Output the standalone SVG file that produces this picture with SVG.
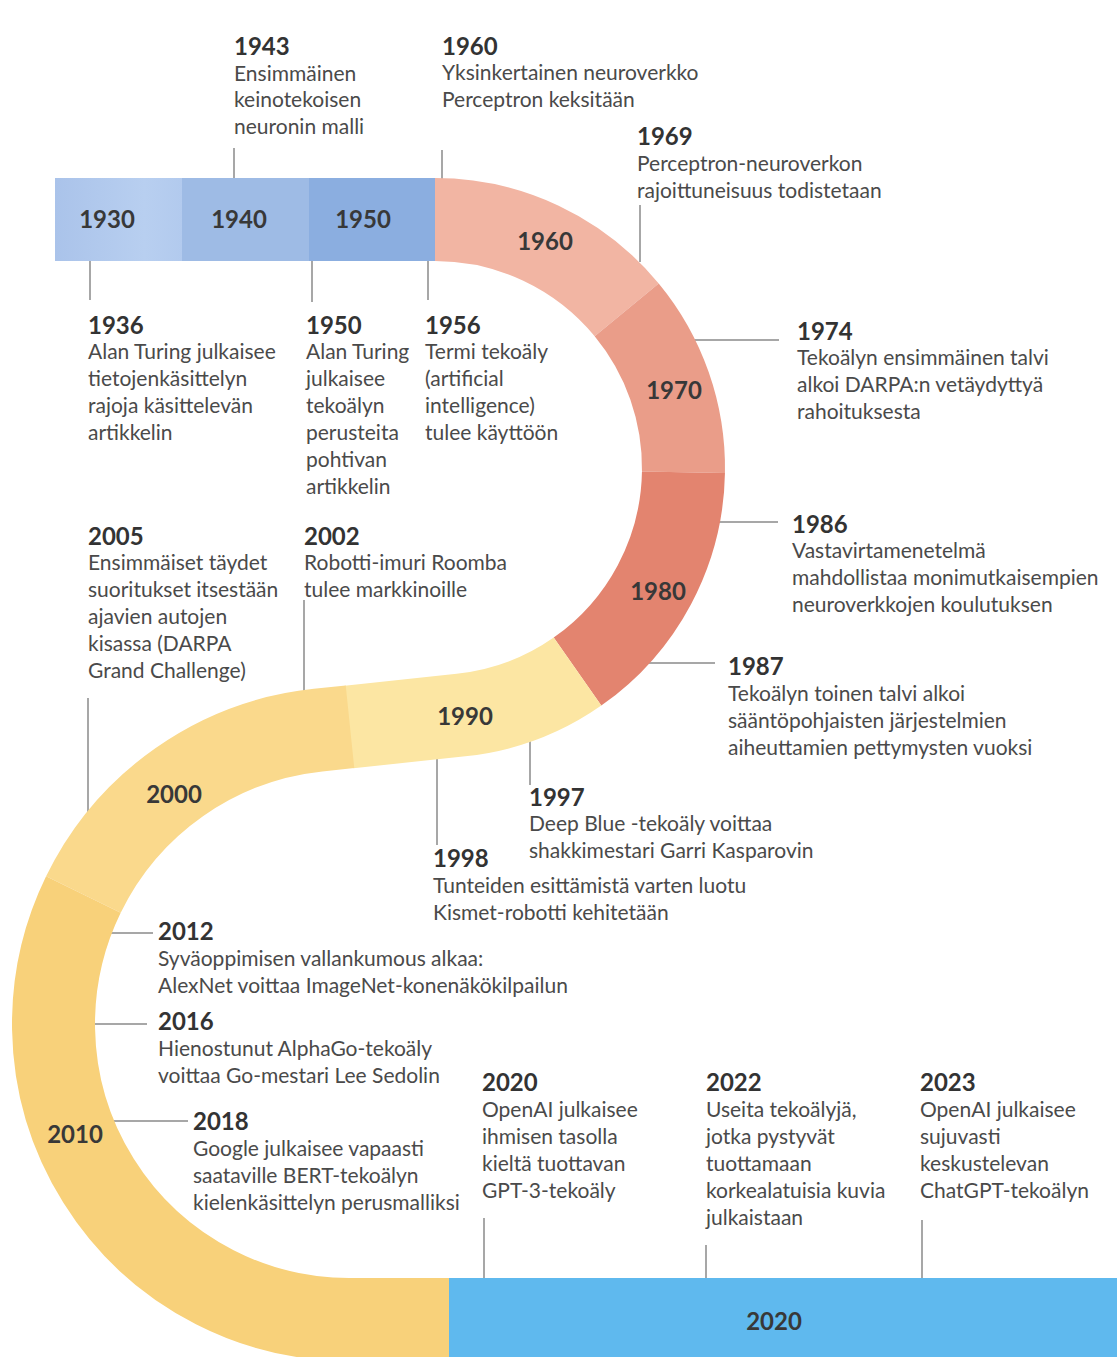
<svg xmlns="http://www.w3.org/2000/svg" width="1117" height="1357" viewBox="0 0 1117 1357">
<style>
.yr{font-family:Lato,"Liberation Sans",sans-serif;font-weight:bold;font-size:24px;fill:#333}
.d{font-family:Lato,"Liberation Sans",sans-serif;font-size:21px;fill:#4a4a4a}
.bl{font-family:Lato,"Liberation Sans",sans-serif;font-weight:bold;font-size:24px;fill:#383838;text-anchor:middle}
.tk{stroke:#8a8a8a;stroke-width:1.5;fill:none}
.seg{fill:none;stroke-width:83;stroke-linecap:butt}
</style>
<defs>
<linearGradient id="g1930" x1="0" y1="0" x2="1" y2="0">
<stop offset="0" stop-color="#AAC3EA"/><stop offset="0.7" stop-color="#B8CFF0"/><stop offset="1" stop-color="#B2CAEE"/>
</linearGradient>
</defs>
<rect width="1117" height="1357" fill="#ffffff"/>
<g id="connectors">
<line class="tk" x1="234" y1="148" x2="234" y2="180"/>
<line class="tk" x1="442" y1="150" x2="442" y2="180"/>
<line class="tk" x1="640" y1="205" x2="640" y2="262"/>
<line class="tk" x1="90" y1="259" x2="90" y2="300"/>
<line class="tk" x1="312" y1="259" x2="312" y2="302"/>
<line class="tk" x1="428" y1="259" x2="428" y2="300"/>
<line class="tk" x1="690" y1="340" x2="779" y2="340"/>
<line class="tk" x1="715" y1="522" x2="778" y2="522"/>
<line class="tk" x1="645" y1="663" x2="715" y2="663"/>
<line class="tk" x1="530" y1="738" x2="530" y2="785"/>
<line class="tk" x1="437" y1="750" x2="437" y2="845"/>
<line class="tk" x1="88" y1="698" x2="88" y2="815"/>
<line class="tk" x1="304" y1="600" x2="304" y2="692"/>
<line class="tk" x1="110" y1="933" x2="153" y2="933"/>
<line class="tk" x1="94" y1="1024" x2="147" y2="1024"/>
<line class="tk" x1="110" y1="1121" x2="188" y2="1121"/>
<line class="tk" x1="484" y1="1218" x2="484" y2="1280"/>
<line class="tk" x1="706" y1="1245" x2="706" y2="1280"/>
<line class="tk" x1="922" y1="1220" x2="922" y2="1280"/>
</g>
<g id="band">
<g id="d1930"><rect x="55" y="178" width="128" height="83" fill="url(#g1930)"/><text class="bl" x="107" y="228">1930</text></g>
<g id="d1940"><rect x="182" y="178" width="128" height="83" fill="#9EBBE5"/><text class="bl" x="239" y="228">1940</text></g>
<g id="d1950"><rect x="309" y="178" width="127" height="83" fill="#8BAEE0"/><text class="bl" x="363" y="228">1950</text></g>
<g id="d1960"><path class="seg" stroke="#F2B5A3" d="M435,219.5 A248.5,248.5 0 0 1 626.7,309.9"/><text class="bl" x="545" y="250">1960</text></g>
<g id="d1970"><path class="seg" stroke="#EA9D89" d="M626.7,309.9 A248.5,248.5 0 0 1 683.46,472.3"/><text class="bl" x="674" y="399">1970</text></g>
<g id="d1980"><path class="seg" stroke="#E3846F" d="M683.46,472.3 A248.5,248.5 0 0 1 577.5,671.6"/><text class="bl" x="658" y="600">1980</text></g>
<g id="d1990"><path class="seg" stroke="#FCE6A3" d="M577.5,671.6 A248.5,248.5 0 0 1 461,715.1 L349,726.9"/><text class="bl" x="465" y="725">1990</text></g>
<g id="d2000"><path class="seg" stroke="#FAD98C" d="M350,726.8 L318.1,730.1 A295.5,295.5 0 0 0 83.4,894.5"/><text class="bl" x="174" y="803">2000</text></g>
<g id="d2010"><path class="seg" stroke="#F8D17A" d="M83.4,894.5 A295.5,295.5 0 0 0 349,1319.5 L450,1319.5"/><text class="bl" x="75" y="1143">2010</text></g>
<g id="d2020"><rect x="449" y="1278" width="668" height="83" fill="#5FB9EE"/><text class="bl" x="774" y="1330">2020</text></g>
</g>
<g id="e1943"><text class="yr" x="234" y="55">1943</text><text class="d"><tspan x="234" y="81">Ensimmäinen</tspan><tspan x="234" y="107">keinotekoisen</tspan><tspan x="234" y="134">neuronin malli</tspan></text></g>
<g id="e1960"><text class="yr" x="442" y="55">1960</text><text class="d"><tspan x="442" y="80">Yksinkertainen neuroverkko</tspan><tspan x="442" y="107">Perceptron keksitään</tspan></text></g>
<g id="e1969"><text class="yr" x="637" y="145">1969</text><text class="d"><tspan x="637" y="171">Perceptron-neuroverkon</tspan><tspan x="637" y="198">rajoittuneisuus todistetaan</tspan></text></g>
<g id="e1936"><text class="yr" x="88" y="334">1936</text><text class="d"><tspan x="88" y="359">Alan Turing julkaisee</tspan><tspan x="88" y="386">tietojenkäsittelyn</tspan><tspan x="88" y="413">rajoja käsittelevän</tspan><tspan x="88" y="440">artikkelin</tspan></text></g>
<g id="e1950"><text class="yr" x="306" y="334">1950</text><text class="d"><tspan x="306" y="359">Alan Turing</tspan><tspan x="306" y="386">julkaisee</tspan><tspan x="306" y="413">tekoälyn</tspan><tspan x="306" y="440">perusteita</tspan><tspan x="306" y="467">pohtivan</tspan><tspan x="306" y="494">artikkelin</tspan></text></g>
<g id="e1956"><text class="yr" x="425" y="334">1956</text><text class="d"><tspan x="425" y="359">Termi tekoäly</tspan><tspan x="425" y="386">(artificial</tspan><tspan x="425" y="413">intelligence)</tspan><tspan x="425" y="440">tulee käyttöön</tspan></text></g>
<g id="e1974"><text class="yr" x="797" y="340">1974</text><text class="d"><tspan x="797" y="365">Tekoälyn ensimmäinen talvi</tspan><tspan x="797" y="392">alkoi DARPA:n vetäydyttyä</tspan><tspan x="797" y="419">rahoituksesta</tspan></text></g>
<g id="e1986"><text class="yr" x="792" y="533">1986</text><text class="d"><tspan x="792" y="558">Vastavirtamenetelmä</tspan><tspan x="792" y="585">mahdollistaa monimutkaisempien</tspan><tspan x="792" y="612">neuroverkkojen koulutuksen</tspan></text></g>
<g id="e1987"><text class="yr" x="728" y="675">1987</text><text class="d"><tspan x="728" y="701">Tekoälyn toinen talvi alkoi</tspan><tspan x="728" y="728">sääntöpohjaisten järjestelmien</tspan><tspan x="728" y="755">aiheuttamien pettymysten vuoksi</tspan></text></g>
<g id="e1997"><text class="yr" x="529" y="806">1997</text><text class="d"><tspan x="529" y="831">Deep Blue -tekoäly voittaa</tspan><tspan x="529" y="858">shakkimestari Garri Kasparovin</tspan></text></g>
<g id="e1998"><text class="yr" x="433" y="867">1998</text><text class="d"><tspan x="433" y="893">Tunteiden esittämistä varten luotu</tspan><tspan x="433" y="920">Kismet-robotti kehitetään</tspan></text></g>
<g id="e2005"><text class="yr" x="88" y="545">2005</text><text class="d"><tspan x="88" y="570">Ensimmäiset täydet</tspan><tspan x="88" y="597">suoritukset itsestään</tspan><tspan x="88" y="624">ajavien autojen</tspan><tspan x="88" y="651">kisassa (DARPA</tspan><tspan x="88" y="678">Grand Challenge)</tspan></text></g>
<g id="e2002"><text class="yr" x="304" y="545">2002</text><text class="d"><tspan x="304" y="570">Robotti-imuri Roomba</tspan><tspan x="304" y="597">tulee markkinoille</tspan></text></g>
<g id="e2012"><text class="yr" x="158" y="940">2012</text><text class="d"><tspan x="158" y="966">Syväoppimisen vallankumous alkaa:</tspan><tspan x="158" y="993">AlexNet voittaa ImageNet-konenäkökilpailun</tspan></text></g>
<g id="e2016"><text class="yr" x="158" y="1030">2016</text><text class="d"><tspan x="158" y="1056">Hienostunut AlphaGo-tekoäly</tspan><tspan x="158" y="1083">voittaa Go-mestari Lee Sedolin</tspan></text></g>
<g id="e2018"><text class="yr" x="193" y="1130">2018</text><text class="d"><tspan x="193" y="1156">Google julkaisee vapaasti</tspan><tspan x="193" y="1183">saataville BERT-tekoälyn</tspan><tspan x="193" y="1210">kielenkäsittelyn perusmalliksi</tspan></text></g>
<g id="e2020"><text class="yr" x="482" y="1091">2020</text><text class="d"><tspan x="482" y="1117">OpenAI julkaisee</tspan><tspan x="482" y="1144">ihmisen tasolla</tspan><tspan x="482" y="1171">kieltä tuottavan</tspan><tspan x="482" y="1198">GPT-3-tekoäly</tspan></text></g>
<g id="e2022"><text class="yr" x="706" y="1091">2022</text><text class="d"><tspan x="706" y="1117">Useita tekoälyjä,</tspan><tspan x="706" y="1144">jotka pystyvät</tspan><tspan x="706" y="1171">tuottamaan</tspan><tspan x="706" y="1198">korkealatuisia kuvia</tspan><tspan x="706" y="1225">julkaistaan</tspan></text></g>
<g id="e2023"><text class="yr" x="920" y="1091">2023</text><text class="d"><tspan x="920" y="1117">OpenAI julkaisee</tspan><tspan x="920" y="1144">sujuvasti</tspan><tspan x="920" y="1171">keskustelevan</tspan><tspan x="920" y="1198">ChatGPT-tekoälyn</tspan></text></g>
</svg>
